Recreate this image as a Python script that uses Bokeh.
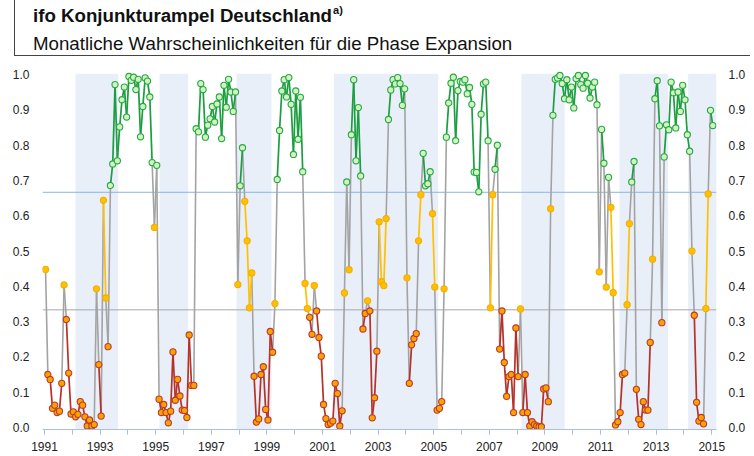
from bokeh.plotting import figure
from bokeh.models import (Range1d, FixedTicker, LinearAxis, Span, BoxAnnotation,
                          ColumnDataSource, Div, CustomJSTickFormatter)
from bokeh.layouts import column
from bokeh.embed import file_html
from bokeh.resources import INLINE

# ---------------- data ----------------
start_year = 1991
prob = [
    # 1991
    0.448, 0.150, 0.136, 0.054, 0.063, 0.042, 0.046, 0.125, 0.404, 0.306, 0.154, 0.038,
    # 1992
    0.044, 0.030, 0.037, 0.073, 0.063, 0.030, 0.004, 0.021, 0.004, 0.008, 0.393, 0.178,
    # 1993
    0.032, 0.644, 0.367, 0.229, 0.686, 0.747, 0.972, 0.756, 0.852, 0.929, 0.965, 0.880,
    # 1994
    0.995, 0.984, 0.993, 0.958, 0.987, 0.824, 0.910, 0.991, 0.982, 0.937, 0.751, 0.567,
    # 1995
    0.743, 0.080, 0.042, 0.065, 0.042, 0.013, 0.046, 0.214, 0.077, 0.136, 0.089, 0.049,
    # 1996
    0.048, 0.028, 0.262, 0.119, 0.119, 0.847, 0.838, 0.975, 0.958, 0.823, 0.857, 0.875,
    # 1997
    0.910, 0.866, 0.917, 0.937, 0.819, 0.970, 0.908, 0.987, 0.951, 0.896, 0.951, 0.405,
    # 1998
    0.685, 0.793, 0.641, 0.529, 0.339, 0.438, 0.145, 0.015, 0.024, 0.150, 0.172, 0.051,
    # 1999
    0.021, 0.272, 0.213, 0.351, 0.703, 0.842, 0.954, 0.986, 0.937, 0.992, 0.916, 0.774,
    # 2000
    0.954, 0.817, 0.936, 0.725, 0.408, 0.337, 0.312, 0.264, 0.402, 0.330, 0.255, 0.202,
    # 2001
    0.065, 0.025, 0.008, 0.012, 0.018, 0.125, 0.096, 0.004, 0.047, 0.381, 0.696, 0.447,
    # 2002
    0.830, 0.986, 0.756, 0.907, 0.713, 0.279, 0.323, 0.359, 0.330, 0.027, 0.084, 0.216,
    # 2003
    0.583, 0.413, 0.402, 0.592, 0.873, 0.957, 0.986, 0.974, 0.992, 0.975, 0.913, 0.960,
    # 2004
    0.424, 0.125, 0.234, 0.252, 0.266, 0.529, 0.660, 0.777, 0.685, 0.691, 0.725, 0.606,
    # 2005
    0.398, 0.049, 0.054, 0.073, 0.393, 0.823, 0.920, 0.976, 0.993, 0.813, 0.955, 0.981,
    # 2006
    0.979, 0.986, 0.946, 0.964, 0.916, 0.724, 0.723, 0.668, 0.888, 0.974, 0.979, 0.813,
    # 2007
    0.339, 0.660, 0.732, 0.800, 0.222, 0.330, 0.184, 0.088, 0.144, 0.150, 0.042, 0.282,
    # 2008
    0.144, 0.336, 0.042, 0.150, 0.042, 0.004, 0.016, 0.008, 0.004, 0.002, 0.002, 0.109,
    # 2009
    0.112, 0.073, 0.620, 0.885, 0.987, 0.991, 0.998, 0.975, 0.932, 0.986, 0.929, 0.965,
    # 2010
    0.906, 0.989, 0.998, 0.972, 0.962, 0.998, 0.976, 0.934, 0.965, 0.979, 0.915, 0.441,
    # 2011
    0.845, 0.749, 0.398, 0.709, 0.624, 0.382, 0.007, 0.016, 0.042, 0.150, 0.154, 0.348,
    # 2012
    0.578, 0.696, 0.754, 0.108, 0.023, 0.008, 0.073, 0.049, 0.049, 0.241, 0.477, 0.932,
    # 2013
    0.983, 0.855, 0.297, 0.767, 0.858, 0.844, 0.979, 0.949, 0.849, 0.951, 0.896, 0.970,
    # 2014
    0.929, 0.830, 0.783, 0.500, 0.318, 0.071, 0.018, 0.028, 0.010, 0.337, 0.662, 0.899,
    # 2015
    0.856,
]

# shaded phases (decimal years)
band_starts = [1992.115, 1995.137, 1997.906, 2001.41, 2008.15, 2011.68, 2014.15]
band_ends = [1993.651, 1996.169, 1999.165, 2005.16, 2009.71, 2013.43, None]

upper_threshold = 2 / 3
lower_threshold = 1 / 3

x_label_years = list(range(1991, 2016, 2))
x_minor_years = list(range(1991, 2016))
y_ticks = [i / 10 for i in range(11)]

title_text = "ifo Konjunkturampel Deutschland"
title_sup = "a)"
subtitle_text = "Monatliche Wahrscheinlichkeiten für die Phase Expansion"

# ---------------- styling ----------------
FONT = "Liberation Sans"
COL = {
    "g": dict(line="#1b9e40", fill="#d2f3bd", edge="#25a847"),
    "y": dict(line="#ffc000", fill="#ffc000", edge="#f4ad00"),
    "r": dict(line="#b5322a", fill="#f7a400", edge="#c0392b"),
}
GRAY = "#a3a3a3"

def cat(v):
    if v > upper_threshold:
        return "g"
    if v >= lower_threshold:
        return "y"
    return "r"

xs = [start_year + (i + 0.45) / 12 for i in range(len(prob))]
cats = [cat(v) for v in prob]

# ---------------- figure ----------------
W = 752
DIV_H = 58
FIG_H = 398
p = figure(width=W, height=FIG_H,
           x_range=Range1d(1990.928, 2015.17),
           y_range=Range1d(-0.006, 1.012),
           output_backend="svg", toolbar_location=None,
           min_border_left=42, min_border_right=36,
           min_border_top=12, min_border_bottom=27, margin=0)
p.grid.visible = False
p.outline_line_color = None
p.background_fill_color = "white"
p.border_fill_color = "white"

for s, e in zip(band_starts, band_ends):
    p.add_layout(BoxAnnotation(left=s, right=e, top=1.003,
                               fill_color="#e9eff9", fill_alpha=1.0,
                               line_color=None, level="underlay"))

p.add_layout(Span(location=upper_threshold, dimension="width",
                  line_color="#8db4e0", line_width=1, level="underlay"))
p.add_layout(Span(location=lower_threshold, dimension="width",
                  line_color="#a8a8a8", line_width=1, level="underlay"))

# segments: coloured when both ends are in the same phase, grey otherwise
seg = {k: dict(x0=[], y0=[], x1=[], y1=[]) for k in ["gray", "g", "y", "r"]}
for i in range(len(prob) - 1):
    key = cats[i] if cats[i] == cats[i + 1] else "gray"
    d = seg[key]
    d["x0"].append(xs[i]); d["y0"].append(prob[i])
    d["x1"].append(xs[i + 1]); d["y1"].append(prob[i + 1])

p.segment("x0", "y0", "x1", "y1", source=ColumnDataSource(seg["gray"]),
          line_color=GRAY, line_width=1.6)
for k in ["y", "r", "g"]:
    p.segment("x0", "y0", "x1", "y1", source=ColumnDataSource(seg[k]),
              line_color=COL[k]["line"], line_width=1.7)

for k in ["r", "y", "g"]:
    px = [x for x, c in zip(xs, cats) if c == k]
    py = [v for v, c in zip(prob, cats) if c == k]
    p.scatter(px, py, size=6.2, marker="circle",
              fill_color=COL[k]["fill"], line_color=COL[k]["edge"], line_width=1.1)

# axes
xa = p.xaxis[0]
xa.ticker = FixedTicker(ticks=x_label_years, minor_ticks=x_minor_years)
xa.formatter = CustomJSTickFormatter(code="return tick.toFixed(0);")
xa.axis_line_color = "#a9bfdc"
xa.major_tick_line_color = "#a9bfdc"
xa.minor_tick_line_color = "#a9bfdc"
xa.major_tick_in = 0
xa.major_tick_out = 5
xa.minor_tick_in = 0
xa.minor_tick_out = 5
xa.major_label_standoff = 7
xa.major_label_text_font = FONT
xa.major_label_text_font_size = "12px"
xa.major_label_text_color = "#222222"

ra = LinearAxis()
p.add_layout(ra, "right")
for ax, standoff in ((p.yaxis[0], 7), (ra, 6)):
    ax.ticker = FixedTicker(ticks=y_ticks)
    ax.formatter = CustomJSTickFormatter(code="return tick.toFixed(1);")
    ax.axis_line_color = None
    ax.major_tick_line_color = None
    ax.minor_tick_line_color = None
    ax.major_label_standoff = standoff
    ax.major_label_text_font = FONT
    ax.major_label_text_font_size = "12px"
    ax.major_label_text_color = "#222222"

# title block
title_html = (
    f'<div style="position:relative;width:{W}px;height:{DIV_H}px;'
    f'font-family:\'{FONT}\',Arial,sans-serif;color:#111;">'
    '<div style="position:absolute;left:14px;top:0px;width:736px;height:56px;'
    'border-left:1px solid #444;border-bottom:1px solid #444;"></div>'
    '<div style="position:absolute;left:33px;top:5px;font-size:18.7px;line-height:21px;'
    'font-weight:bold;white-space:nowrap;">'
    f'{title_text}<span style="font-size:11px;position:relative;top:-8px;margin-left:1px;">'
    f'{title_sup}</span></div>'
    '<div style="position:absolute;left:33px;top:33px;font-size:18.7px;line-height:21px;'
    f'white-space:nowrap;">{subtitle_text}</div></div>'
)
div = Div(text=title_html, width=W, height=DIV_H, margin=0)

layout = column(div, p, spacing=0)
open("out.html", "w").write(file_html(layout, INLINE))
